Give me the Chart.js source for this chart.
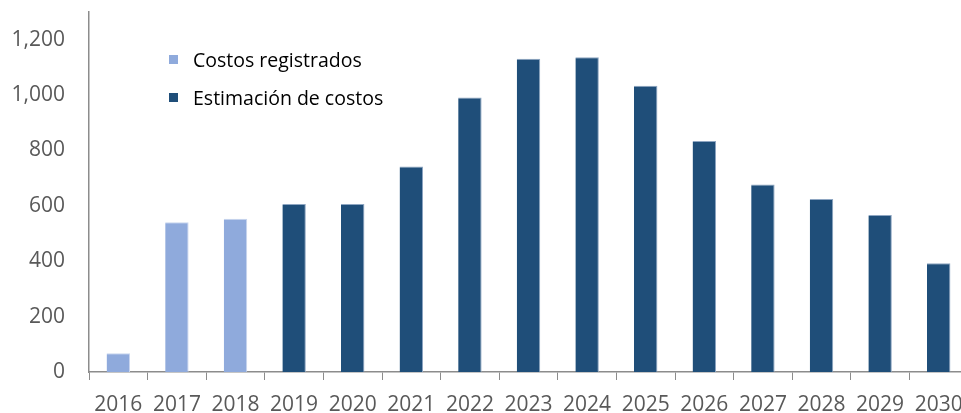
<!DOCTYPE html>
<html><head><meta charset="utf-8">
<script src="https://cdn.jsdelivr.net/npm/chart.js@4/dist/chart.umd.min.js"></script>
<style>
html,body{margin:0;padding:0;background:#fff;overflow:hidden;width:961px;height:413px}
#wrap{position:relative;width:975px;height:413px}
#legend{position:absolute;left:169px;top:40px;font-family:"Open Sans",sans-serif;font-size:19.5px;color:#000}
#legend div{display:flex;align-items:center;height:38px}
#legend span.sw{display:inline-block;width:9px;height:9px;margin-right:15px}
</style></head>
<body><div id="wrap"><canvas id="c" width="975" height="413"></canvas><div id="legend"></div></div>
<script>
const categories = ["2016","2017","2018","2019","2020","2021","2022","2023","2024","2025","2026","2027","2028","2029","2030"];
const registrados = [68,541,553,null,null,null,null,null,null,null,null,null,null,null,null];
const estimacion  = [null,null,null,607,607,742,991,1131,1137,1034,834,677,625,567,393];
const seriesNames = ["Costos registrados","Estimación de costos"];
const seriesColors = ["#8FAADC","#1F4E79"];
const yTicks = [0,200,400,600,800,1000,1200];

const chart = new Chart(document.getElementById('c'), {
  type: 'bar',
  data: {
    labels: categories,
    datasets: [
      {label: seriesNames[0], data: registrados, backgroundColor: seriesColors[0], borderColor:'#c9d6ee', borderWidth:{top:1,left:0,right:1,bottom:0}},
      {label: seriesNames[1], data: estimacion, backgroundColor: seriesColors[1], borderColor:'#8ea6c2', borderWidth:{top:1,left:0,right:1,bottom:0}}
    ]
  },
  options: {
    responsive: false,
    animation: false,
    grouped: false,
    barPercentage: 0.4,
    categoryPercentage: 1.0,
    layout: {padding: {left: 0, right: 7, top: 12, bottom: 0}},
    plugins: {legend: {display: false}, tooltip: {enabled: false}},
    scales: {
      x: {
        grid: {display: true, drawOnChartArea: false, drawTicks: true, tickLength: 8, color: '#8c8c8c', offset: true},
        border: {display: true, color: '#8c8c8c', width: 1.5},
        ticks: {color: '#595959', font: {family: 'Open Sans', size: 21}, padding: 12, maxRotation: 0, autoSkip: false},
        afterFit: s => { s.height = 41; }
      },
      y: {
        min: 0, max: 1300,
        grid: {display: false, drawTicks: false},
        border: {display: true, color: '#8c8c8c', width: 1.5},
        ticks: {stepSize: 200, color: '#595959', font: {family: 'Open Sans', size: 21}, padding: 24,
          callback: v => v.toLocaleString('en-US')},
        afterBuildTicks: s => { s.ticks = yTicks.map(v => ({value: v})); },
        afterFit: s => { s.width = 89; s.paddingTop = 0; }
      }
    }
  }
});

const lg = document.getElementById('legend');
chart.data.datasets.forEach(ds => {
  const d = document.createElement('div');
  d.innerHTML = '<span class="sw" style="background:' + ds.backgroundColor + '"></span><span>' + ds.label + '</span>';
  lg.appendChild(d);
});
</script></body></html>
